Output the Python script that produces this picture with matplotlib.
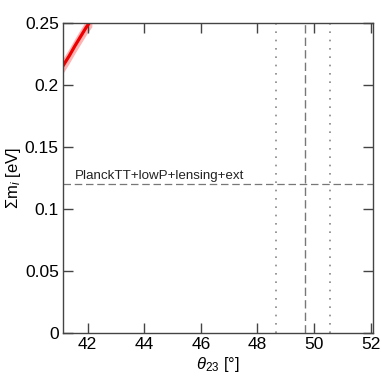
import numpy as np
import matplotlib.pyplot as plt

plt.rcParams['font.family'] = ['Liberation Sans', 'DejaVu Sans']
plt.rcParams['mathtext.fontset'] = 'custom'
plt.rcParams['mathtext.rm'] = 'Liberation Sans'
plt.rcParams['mathtext.it'] = 'Liberation Sans:italic'

# red curve (theta23 [deg], sum m [eV])
curve_theta = [41.13, 41.35, 41.55, 41.75, 41.95, 42.15]
curve_summ = [0.2155, 0.2235, 0.2315, 0.2390, 0.2465, 0.2530]
band = 0.006

# vertical reference lines
theta_best = 49.7
theta_lo, theta_hi = 48.65, 50.57
summ_limit = 0.12
limit_label = 'PlanckTT+lowP+lensing+ext'

fig = plt.figure(figsize=(3.82, 3.83), dpi=100)
ax = fig.add_axes([0.165, 0.1305, 0.811, 0.8095])

ct = np.array(curve_theta)
cs = np.array(curve_summ)
ax.fill_between(ct, cs - band, cs + band, color='#ffb3b3', lw=0)
ax.plot(ct, cs, color='#ee0000', lw=2.3)

ax.axvline(theta_best, color='#777777', lw=1, ls=(0, (6, 3)))
for t in (theta_lo, theta_hi):
    ax.axvline(t, color='#888888', lw=1.2, ls=(0, (1, 4)))
ax.axhline(summ_limit, color='#777777', lw=0.9, ls=(0, (6, 3)))
ax.text(41.55, summ_limit + 0.002, limit_label, fontsize=9.6, color='#222222', va='bottom')

ax.set_xlim(41.13, 52.08)
ax.set_ylim(0, 0.25)
ax.set_xticks([42, 44, 46, 48, 50, 52])
ax.set_yticks([0, 0.05, 0.1, 0.15, 0.2, 0.25])
ax.set_yticklabels(['0', '0.05', '0.1', '0.15', '0.2', '0.25'])
ax.tick_params(direction='in', length=7, width=1, labelsize=12.5, top=True, right=True, color='#444444', pad=3)
for s in ax.spines.values():
    s.set_color('#444444')
    s.set_linewidth(1)

ax.set_xlabel(r'$\theta_{23}$ [°]', fontsize=12, labelpad=2)
ax.set_ylabel(r'$\Sigma \mathrm{m}_i$ [eV]', fontsize=12, labelpad=1)

fig.savefig('out.png', dpi=100)
